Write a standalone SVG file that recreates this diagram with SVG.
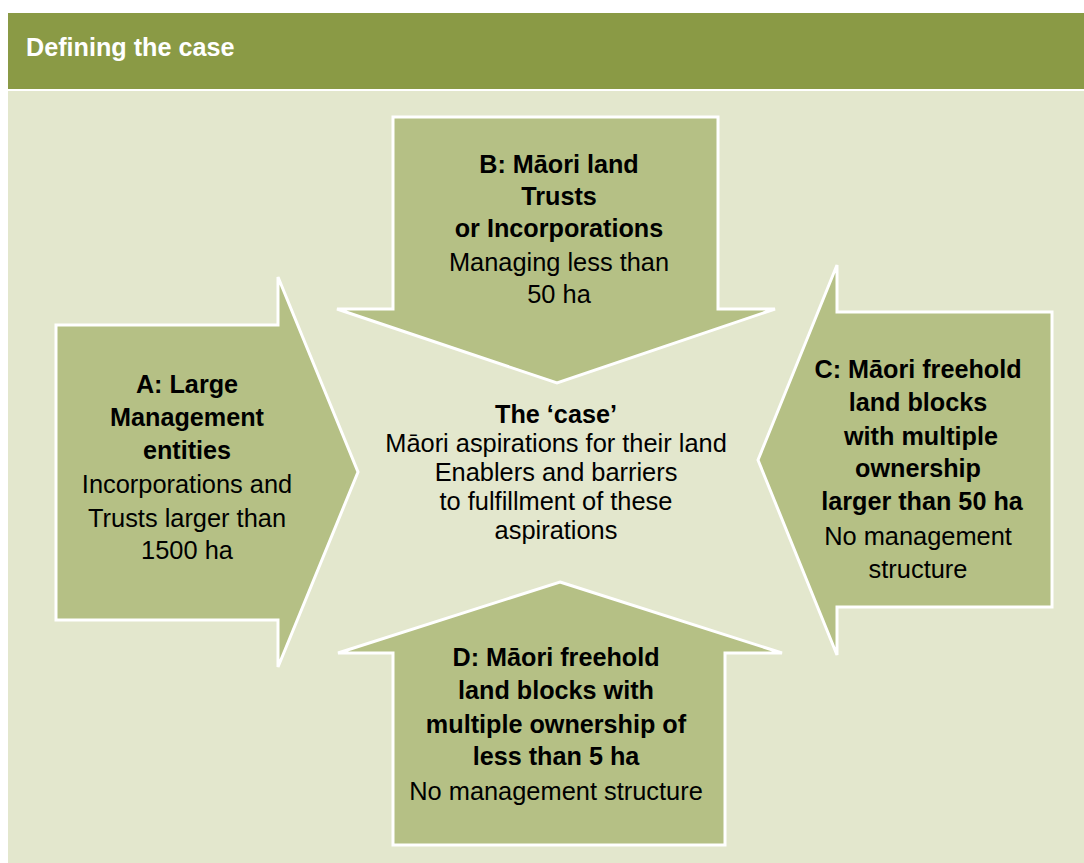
<svg xmlns="http://www.w3.org/2000/svg" width="1084" height="863" viewBox="0 0 1084 863">
<style>
.arrow{fill:#B5C085;stroke:#FFFFFF;stroke-width:3;stroke-linejoin:miter}
text{font-family:"Liberation Sans",Arial,sans-serif;font-size:25.4px;fill:#000000;text-anchor:middle}
.b{font-weight:bold;font-size:25.2px}
.hdr{font-weight:bold;fill:#FFFFFF;text-anchor:start;font-size:25.2px}
</style>
<rect x="0" y="0" width="1084" height="863" fill="#FFFFFF"/>
<rect x="8" y="13" width="1076" height="76" fill="#8A9A45"/>
<rect x="8" y="91" width="1076" height="772" fill="#E3E7CD"/>
<text class="hdr" x="26" y="56">Defining the case</text>
<g id="connectors"></g>
<g id="nodeA">
<polygon class="arrow" points="56,325 278,325 278,277 358,472 278,667 278,620 56,620"/>
<text x="187" y="393" class="b">A: Large</text>
<text x="187" y="426" class="b">Management</text>
<text x="187" y="459" class="b">entities</text>
<text x="187" y="493">Incorporations and</text>
<text x="187" y="527">Trusts larger than</text>
<text x="187" y="559">1500 ha</text>
</g>
<g id="nodeB">
<polygon class="arrow" points="393,117 718,117 718,309 775,309 557,383 337,309 393,309"/>
<text x="559" y="173" class="b">B: Māori land</text>
<text x="559" y="205" class="b">Trusts</text>
<text x="559" y="237" class="b">or Incorporations</text>
<text x="559" y="271">Managing less than</text>
<text x="559" y="303">50 ha</text>
</g>
<g id="nodeC">
<polygon class="arrow" points="1052,312 1052,607 837,607 837,655 758,460 837,265 837,312"/>
<text x="918" y="378" class="b">C: Māori freehold</text>
<text x="918" y="411" class="b">land blocks</text>
<text x="921" y="445" class="b">with multiple</text>
<text x="918" y="477" class="b">ownership</text>
<text x="922" y="510" class="b">larger than 50 ha</text>
<text x="918" y="545">No management</text>
<text x="918" y="578">structure</text>
</g>
<g id="nodeD">
<polygon class="arrow" points="560,582 782,653 725,653 725,845 393,845 393,653 338,653"/>
<text x="556" y="666" class="b">D: Māori freehold</text>
<text x="556" y="699" class="b">land blocks with</text>
<text x="556" y="733" class="b">multiple ownership of</text>
<text x="556" y="765" class="b">less than 5 ha</text>
<text x="556" y="800">No management structure</text>
</g>
<g id="center">
<text x="556" y="423" class="b">The ‘case’</text>
<text x="556" y="452">Māori aspirations for their land</text>
<text x="556" y="481">Enablers and barriers</text>
<text x="556" y="510">to fulfillment of these</text>
<text x="556" y="539">aspirations</text>
</g>
</svg>
